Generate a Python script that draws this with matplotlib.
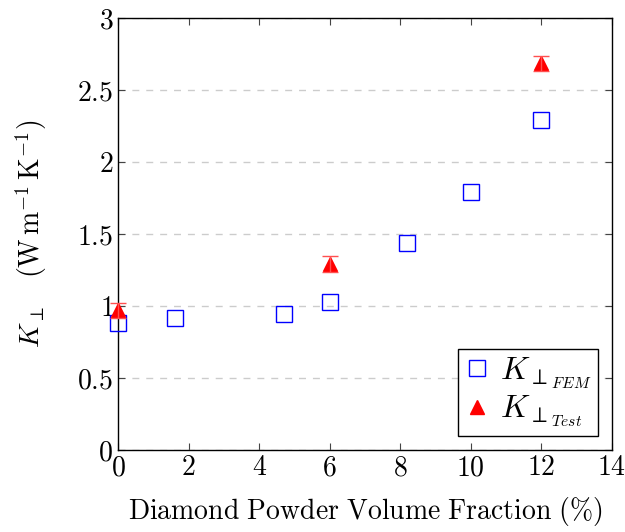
import matplotlib
matplotlib.use("Agg")
import matplotlib.pyplot as plt
from matplotlib.lines import Line2D

fem_x = [0, 1.6, 4.7, 6, 8.2, 10, 12]
fem_y = [0.885, 0.915, 0.945, 1.03, 1.435, 1.79, 2.29]
test_x = [0, 6, 12]
test_y = [0.97, 1.29, 2.685]
test_err = [0.05, 0.055, 0.055]

plt.rcParams['mathtext.fontset'] = 'cm'
plt.rcParams['font.family'] = 'serif'
plt.rcParams['font.serif'] = ['cmr10', 'DejaVu Serif']
plt.rcParams['axes.formatter.use_mathtext'] = True

fig = plt.figure(figsize=(6.25, 5.32), dpi=100)
ax = fig.add_axes([0.189, 0.154, 0.790, 0.812])

ax.set_xlim(0, 14)
ax.set_ylim(0, 3)
xt = [0, 2, 4, 6, 8, 10, 12, 14]
yt = [0, 0.5, 1, 1.5, 2, 2.5, 3]
ax.set_xticks(xt)
ax.set_xticklabels([f"${v}$" for v in xt])
ax.set_yticks(yt)
ax.set_yticklabels([f"${v:g}$" for v in yt])
ax.tick_params(direction='in', top=True, right=True, labelsize=20, length=5, color='#444444')
ax.grid(axis='y', linestyle=(0, (5, 5)), color='#cccccc', linewidth=1)
ax.set_axisbelow(True)
for s in ax.spines.values():
    s.set_linewidth(1.0)

ax.plot(fem_x, fem_y, linestyle='none', marker='s', markersize=11.5, markerfacecolor='none',
        markeredgecolor='blue', markeredgewidth=1.0, clip_on=False, zorder=3)
ax.plot(test_x, test_y, linestyle='none', marker='^', markersize=10, color='red',
        clip_on=False, zorder=4)
ax.errorbar(test_x, test_y, yerr=test_err, fmt='none', ecolor='#ff5050', elinewidth=1.0,
            capsize=6, capthick=1.0, clip_on=False, zorder=5)

ax.set_xlabel(r'$\mathrm{Diamond\ Powder\ Volume\ Fraction\ (\%)}$', fontsize=20, labelpad=10)
ax.set_ylabel(r'$K_{\perp}\quad (\mathrm{W\,m^{-1}\,K^{-1}})$', fontsize=20, labelpad=20)

handles = [
    Line2D([], [], linestyle='none', marker='s', markersize=11.5, markerfacecolor='none',
           markeredgecolor='blue', markeredgewidth=1.0),
    Line2D([], [], linestyle='none', marker='^', markersize=10, color='red'),
]
labels = [r'$K_{\perp_{FEM}}$', r'$K_{\perp_{Test}}$']
leg = ax.legend(handles, labels, loc='lower right', fontsize=23, frameon=True, fancybox=False,
                edgecolor='black', framealpha=1, handlelength=0.8, handletextpad=0.3,
                borderpad=0.2, labelspacing=0.1, borderaxespad=0.45)
leg.get_frame().set_linewidth(1.0)

fig.savefig('out.png', dpi=100)
